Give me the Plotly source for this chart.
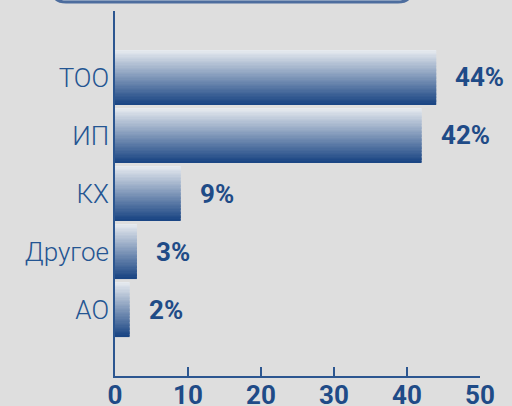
import plotly.graph_objects as go

# ---- data ----
categories = ["ТОО", "ИП", "КХ", "Другое", "АО"]
shares = [44, 42, 9, 3, 2]
x_ticks = [0, 10, 20, 30, 40, 50]

# ---- style ----
W, H = 512, 406
ML, MR, MT, MB = 115, 32, 11, 30
BG = "#dedede"
DARK = "#1f4b87"
TOP_C = (0xe6, 0xea, 0xef)
BOT_C = (0x1b, 0x46, 0x84)
BAR_W = 0.93
N = 40

fig = go.Figure()
for k in range(N):
    t = k / (N - 1)
    c = tuple(round(TOP_C[i] + (BOT_C[i] - TOP_C[i]) * t) for i in range(3))
    sw = BAR_W / N
    fig.add_trace(go.Bar(
        y=categories, x=shares, orientation="h",
        width=sw * 1.4, offset=-BAR_W / 2 + k * sw,
        marker=dict(color="rgb(%d,%d,%d)" % c, line=dict(width=0)),
        hoverinfo="skip", showlegend=False,
    ))

for cat, v in zip(categories, shares):
    fig.add_annotation(x=v, y=cat, text=f"{v}%", showarrow=False,
                       xanchor="left", xshift=17,
                       font=dict(family="Roboto", size=26, color=DARK, weight="bold"))

# decorative bottom edge of title box above the chart
pw, ph = W - ML - MR, H - MT - MB
def px(xp): return (xp - ML) / pw
def py(yp): return (H - MB - yp) / ph
r = 14
path = (f"M {px(52)},{py(-20)} L {px(52)},{py(2 - r)} Q {px(52)},{py(2)} {px(52 + r)},{py(2)} "
        f"L {px(412 - r)},{py(2)} Q {px(412)},{py(2)} {px(412)},{py(2 - r)} L {px(412)},{py(-20)} Z")
fig.add_shape(type="path", xref="paper", yref="paper", path=path,
              fillcolor="#c9d2de", line=dict(color="#4d6d9e", width=3), layer="above")

fig.update_layout(
    width=W, height=H, margin=dict(l=ML, r=MR, t=MT, b=MB, autoexpand=False),
    paper_bgcolor=BG, plot_bgcolor=BG, barmode="overlay",
    font=dict(family="Roboto", color=DARK),
)
fig.update_xaxes(range=[0, 50], tickvals=x_ticks, ticktext=[str(t) for t in x_ticks],
                 ticks="inside", ticklen=9, tickwidth=1.5, tickcolor="#2c5690",
                 showline=True, linecolor="#2c5690", linewidth=1.5,
                 showgrid=False, zeroline=False, automargin=False, ticklabelstandoff=-5,
                 tickfont=dict(family="Roboto", size=26, color=DARK, weight="bold"))
fig.update_yaxes(categoryorder="array", categoryarray=categories,
                 range=[5.145, -1.145], showline=True, linecolor="#2c5690", linewidth=1.5,
                 showgrid=False, zeroline=False, ticks="", ticklabelstandoff=-1, automargin=False,
                 tickfont=dict(family="Roboto", size=26, color="#245592", weight=300))

fig.write_html("out.html", config={"displayModeBar": False},
               post_script="document.body.style.margin='0';document.body.style.background='" + BG + "';")
